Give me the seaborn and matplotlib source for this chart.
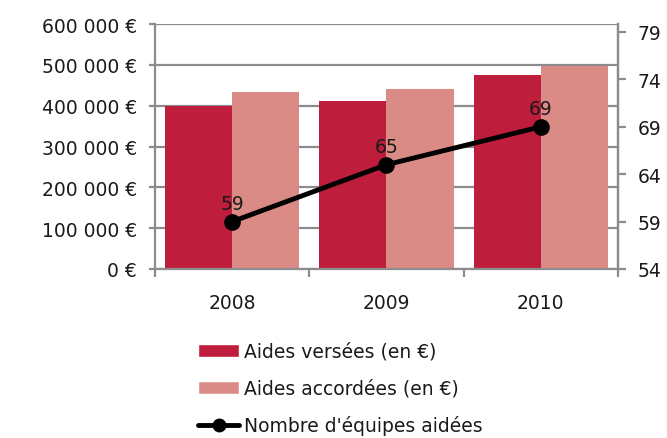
import numpy as np
import pandas as pd
import seaborn as sns
import matplotlib.pyplot as plt
from matplotlib.ticker import FuncFormatter, FixedLocator
from matplotlib.patches import Patch
from matplotlib.lines import Line2D

years = ['2008', '2009', '2010']
aides_versees = [400000, 411000, 475000]
aides_accordees = [433000, 440000, 497000]
equipes = [59, 65, 69]

label_versees = 'Aides versées (en €)'
label_accordees = 'Aides accordées (en €)'
label_equipes = "Nombre d'équipes aidées"
colors = ['#BE1E3C', '#DA8B85']
grey = '#8A8C8F'
fs = 13.5

df = pd.DataFrame({
    'year': years * 2,
    'value': aides_versees + aides_accordees,
    'serie': [label_versees] * 3 + [label_accordees] * 3,
})

sns.set_style('white')
plt.rcParams['font.family'] = ['DejaVu Sans']
plt.rcParams['font.size'] = fs

fig = plt.figure(figsize=(6.67, 4.39), dpi=100)
ax = fig.add_axes([0.2324, 0.385, 0.6941, 0.558])

sns.barplot(data=df, x='year', y='value', hue='serie', palette=colors,
            width=0.87, gap=0, saturation=1, legend=False, linewidth=0,
            ax=ax, zorder=2)
ax.set_xlim(-0.5, 2.5)
ax.set_ylim(0, 600000)
ax.set_yticks(np.arange(0, 600001, 100000))
ax.yaxis.set_major_formatter(FuncFormatter(
    lambda v, p: f'{v:,.0f} €'.replace(',', ' ')))
ax.grid(axis='y', color=grey, linewidth=1.6, zorder=0)
ax.set_axisbelow(True)
ax.set_xlabel('')
ax.set_ylabel('')
ax.xaxis.set_minor_locator(FixedLocator([-0.5, 0.5, 1.5, 2.5]))
ax.tick_params(axis='x', which='major', length=0, pad=17, labelsize=fs,
               colors='#1a1a1a')
ax.tick_params(axis='x', which='minor', length=6, width=1.6, color=grey,
               direction='out', bottom=True)
ax.tick_params(axis='y', length=4, width=1.6, color=grey, direction='out',
               left=True, pad=9, labelsize=fs, labelcolor='#1a1a1a')
for s in ax.spines.values():
    s.set_color(grey)
    s.set_linewidth(1.6)
ax.spines['top'].set_visible(False)

ax2 = ax.twinx()
xpos = np.arange(len(years))
sns.lineplot(x=xpos, y=equipes, ax=ax2, color='black', linewidth=3.5,
             marker='o', markersize=12, markeredgewidth=0, zorder=5)
ax2.set_ylim(54, 79.84)
ax2.set_yticks(np.arange(54, 80, 5))
ax2.tick_params(axis='y', length=6, width=1.6, color=grey, direction='out',
                right=True, pad=8, labelsize=fs, labelcolor='#1a1a1a')
for s in ax2.spines.values():
    s.set_visible(False)
ax2.spines['right'].set_visible(True)
ax2.spines['right'].set_color(grey)
ax2.spines['right'].set_linewidth(1.6)
for x, v in zip(xpos, equipes):
    ax2.annotate(str(v), (x, v), textcoords='offset points', xytext=(0, 6),
                 ha='center', va='bottom', fontsize=fs, color='#1a1a1a')

handles = [
    Patch(facecolor=colors[0], label=label_versees),
    Patch(facecolor=colors[1], label=label_accordees),
    Line2D([0], [0], color='black', linewidth=3.5, marker='o', markersize=10,
           markeredgewidth=0, label=label_equipes),
]
fig.legend(handles=handles, loc='upper left', bbox_to_anchor=(0.297, 0.219),
           frameon=False, borderaxespad=0, borderpad=0, handlelength=2.2,
           handleheight=0.7, handletextpad=0.25, labelspacing=0.95,
           fontsize=fs, labelcolor='#1a1a1a')

fig.savefig('out.png', dpi=100)
